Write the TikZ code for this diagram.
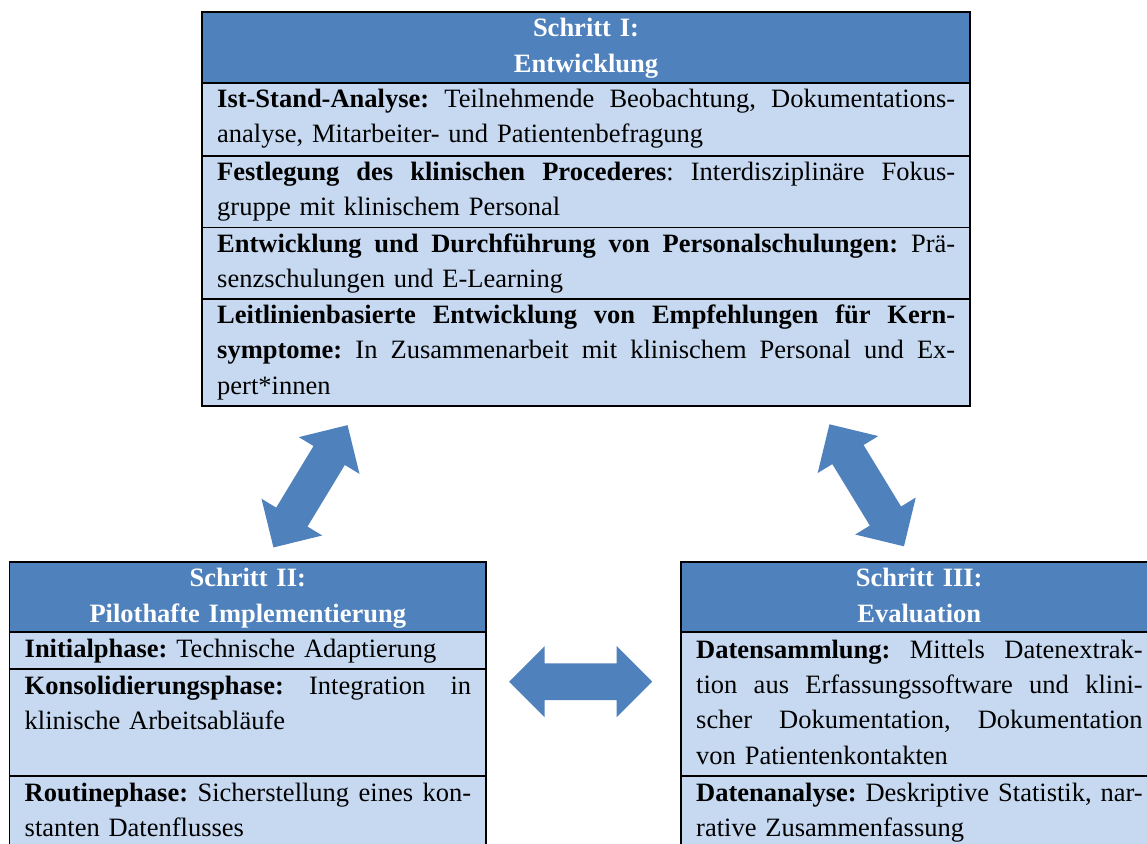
\documentclass[tikz,border=0pt]{standalone}
\usepackage{fontspec}
\setmainfont{Liberation Serif}
\definecolor{headblue}{HTML}{4F81BD}
\definecolor{rowblue}{HTML}{C6D9F1}
\definecolor{arrowblue}{HTML}{4F81BD}
% a full, justified line of a table cell: all interword spaces stretch equally
\newcommand{\jline}[1]{\makebox[\linewidth][s]{\frenchspacing
  \spaceskip=0.25em plus 1fil\relax\xspaceskip=\spaceskip#1}}
\begin{document}
\begin{tikzpicture}[x=1pt,y=-1pt,
  txt/.style={font=\fontsize{26.5pt}{35.4pt}\selectfont\frenchspacing, inner sep=0pt, anchor=base west},
  headtxt/.style={font=\fontsize{26.5pt}{35.4pt}\selectfont\bfseries, text=white, inner sep=0pt, anchor=base, align=center},
  frame/.style={draw=black, line width=1.6pt},
  blockarrow/.pic={\fill[arrowblue] (-71.5,0) -- (-36,-35.5) -- (-36,-18.3) -- (36,-18.3) -- (36,-35.5)
     -- (71.5,0) -- (36,35.5) -- (36,18.3) -- (-36,18.3) -- (-36,35.5) -- cycle;}
]
\useasboundingbox (0,0) rectangle (1147,843);
\clip (0,0) rectangle (1147,843);

% ---------- Schritt I ----------
\fill[headblue] (202,12) rectangle (970,83);
\fill[rowblue] (202,83) rectangle (970,406);
\draw[frame] (202,12) rectangle (970,406);
\draw[frame] (202,83) -- (970,83) (202,156) -- (970,156)
             (202,227.5) -- (970,227.5) (202,299) -- (970,299);
\node[headtxt, text width=768pt] (headI) at (586,36.7) {Schritt I:\\Entwicklung};
\node[txt, text width=738pt] (ist) at (217,107.5)
  {\jline{\textbf{Ist-Stand-Analyse:} Teilnehmende Beobachtung, Dokumentations-}\\
   analyse, Mitarbeiter- und Patientenbefragung};
\node[txt, text width=738pt] (festlegung) at (217,180.5)
  {\jline{\textbf{Festlegung des klinischen Procederes}: Interdisziplinäre Fokus-}\\
   gruppe mit klinischem Personal};
\node[txt, text width=738pt] (schulung) at (217,252)
  {\jline{\textbf{Entwicklung und Durchführung von Personalschulungen:} Prä-}\\
   senzschulungen und E-Learning};
\node[txt, text width=738pt] (leitlinien) at (217,323.5)
  {\jline{\textbf{Leitlinienbasierte Entwicklung von Empfehlungen für Kern-}}\\
   \jline{\textbf{symptome:} In Zusammenarbeit mit klinischem Personal und Ex-}\\
   pert*innen};

% ---------- Schritt II ----------
\fill[headblue] (9.5,562) rectangle (486,632);
\fill[rowblue] (9.5,632) rectangle (486,850);
\draw[frame] (9.5,850) -- (9.5,562) -- (486,562) -- (486,850);
\draw[frame] (9.5,632) -- (486,632) (9.5,669) -- (486,669) (9.5,776) -- (486,776);
\node[headtxt, text width=476.5pt] (headII) at (247.75,586.7) {Schritt II:\\Pilothafte Implementierung};
\node[txt, text width=446.5pt] (initial) at (24.5,657.5)
  {\textbf{Initialphase:} Technische Adaptierung};
\node[txt, text width=446.5pt] (konsol) at (24.5,694.5)
  {\jline{\textbf{Konsolidierungsphase:} Integration in}\\
   klinische Arbeitsabläufe};
\node[txt, text width=446.5pt] (routine) at (24.5,801)
  {\jline{\textbf{Routinephase:} Sicherstellung eines kon-}\\
   stanten Datenflusses};

% ---------- Schritt III ----------
\fill[headblue] (681,562) rectangle (1157.5,632);
\fill[rowblue] (681,632) rectangle (1157.5,850);
\draw[frame] (681,850) -- (681,562) -- (1157.5,562) -- (1157.5,850);
\draw[frame] (681,632) -- (1157.5,632) (681,776) -- (1157.5,776);
\node[headtxt, text width=476.5pt] (headIII) at (919.25,586.7) {Schritt III:\\Evaluation};
\node[txt, text width=446.5pt] (sammlung) at (696,658)
  {\jline{\textbf{Datensammlung:} Mittels Datenextrak-}\\
   \jline{tion aus Erfassungssoftware und klini-}\\
   \jline{scher Dokumentation, Dokumentation}\\
   von Patientenkontakten};
\node[txt, text width=446.5pt] (analyse) at (696,801)
  {\jline{\textbf{Datenanalyse:} Deskriptive Statistik, nar-}\\
   rative Zusammenfassung};

% ---------- double block arrows between the steps ----------
\pic[rotate=58.8] (arrowIII) at (310.5,486.3) {blockarrow};
\pic[rotate=-58.6] (arrowIIII) at (866.7,485.3) {blockarrow};
\pic (arrowIIIII) at (580.7,681.7) {blockarrow};
\end{tikzpicture}
\end{document}
